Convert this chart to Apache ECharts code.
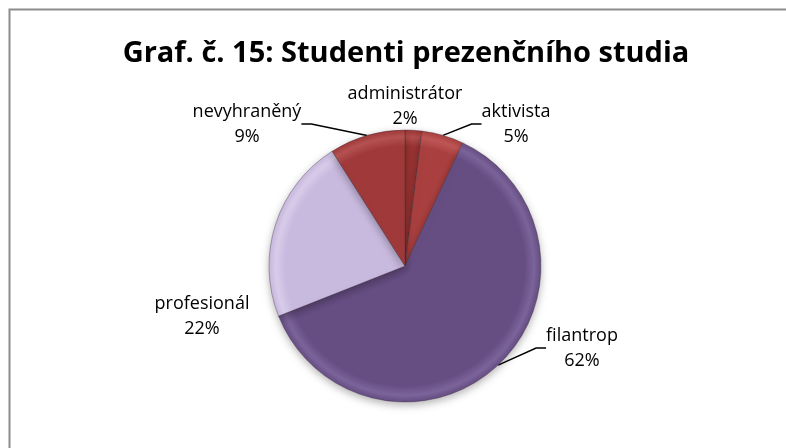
<!DOCTYPE html>
<html>
<head>
<meta charset="utf-8">
<script src="https://cdn.jsdelivr.net/npm/echarts@6/dist/echarts.min.js"></script>
<style>
  html, body { margin: 0; padding: 0; background: #fff; }
  #chart { width: 786px; height: 448px; }
</style>
</head>
<body>
<div id="chart"></div>
<script>
// data (percent)
const categories = ['administrátor', 'aktivista', 'filantrop', 'profesionál', 'nevyhraněný']
const values = [2, 5, 62, 22, 9]
const colors = ['#9B3534', '#A9403F', '#664E83', '#C8B9DE', '#A03A3A']
const rimColors = ['#B5504F', '#BF5756', '#7B649A', '#D8CCEA', '#B65252']

// where Excel put the labels (centre of the two-line block)
const labelPos = [[405, 106], [516, 124], [582, 348], [202, 316], [247, 124]]
const showLine = [false, true, true, false, true]

const cx = 405, cy = 266, r = 136

let myChart = echarts.init(document.getElementById('chart'))

// soft bevel like the Excel style
const bevel = (i) => new echarts.graphic.RadialGradient(cx, cy, r, [
    { offset: 0, color: colors[i] },
    { offset: 0.88, color: colors[i] },
    { offset: 0.95, color: rimColors[i] },
    { offset: 1, color: colors[i] }
], true)

const option = {
    animation: false,
    title: {
        text: 'Graf. č. 15: Studenti prezenčního studia',
        left: 401,
        textAlign: 'center',
        top: 34,
        textStyle: {
            fontFamily: 'Open Sans',
            fontWeight: 'bold',
            fontSize: 29,
            color: '#000'
        }
    },
    graphic: [
        {
            type: 'polyline',
            shape: { points: [[9.5, 448], [9.5, 9.5], [786, 9.5]] },
            style: { stroke: '#8c8c8c', lineWidth: 2, fill: null }
        }
    ],
    series: [
        {
            type: 'pie',
            center: [cx, cy],
            radius: r,
            startAngle: 90,
            clockwise: true,
            data: categories.map((name, i) => ({
                name: name,
                value: values[i],
                itemStyle: { color: bevel(i) },
                labelLine: { show: showLine[i] }
            })),
            itemStyle: {
                borderColor: 'rgba(60,40,60,0.45)',
                borderWidth: 0.8,
                shadowBlur: 8,
                shadowOffsetY: 3,
                shadowColor: 'rgba(0,0,0,0.3)'
            },
            label: {
                show: true,
                position: 'outside',
                formatter: '{b}\n{d}%',
                fontFamily: 'Open Sans',
                fontSize: 18,
                lineHeight: 25,
                color: '#000',
                align: 'center'
            },
            labelLine: {
                show: true,
                length: 15,
                length2: 10,
                lineStyle: { color: '#000', width: 1.5 }
            },
            labelLayout: function (params) {
                const p = labelPos[params.dataIndex]
                return {
                    x: p[0],
                    y: p[1],
                    align: 'center',
                    verticalAlign: 'middle'
                }
            }
        }
    ]
}

myChart.setOption(option)
</script>
</body>
</html>
